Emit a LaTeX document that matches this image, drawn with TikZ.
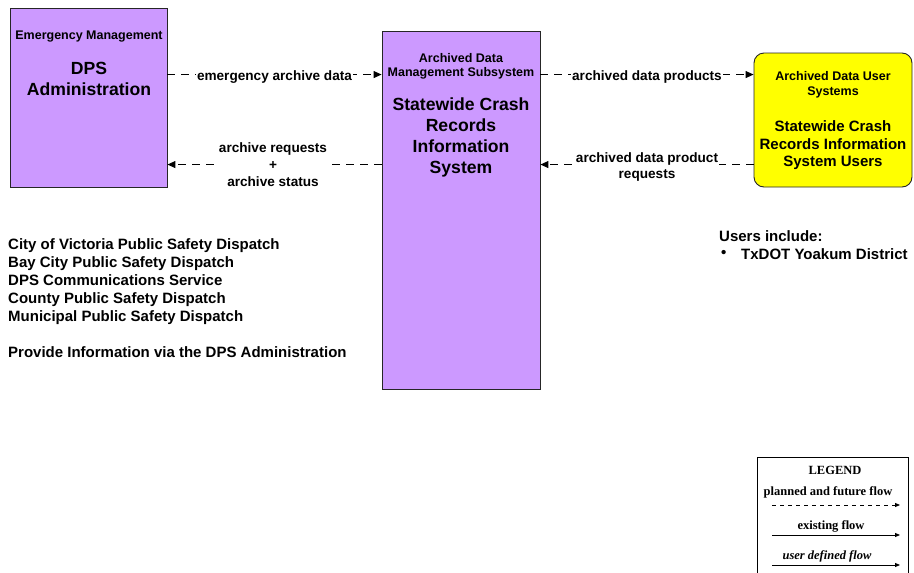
\documentclass[tikz,border=0pt]{standalone}
\usepackage{fontspec}
\setmainfont{Liberation Sans}
\newfontfamily\legendfont{Liberation Serif}
\usetikzlibrary{arrows.meta}

\definecolor{archpurple}{HTML}{CC99FF}
\definecolor{useryellow}{HTML}{FFFF00}

\begin{document}
\begin{tikzpicture}[x=1pt, y=-1pt,
  sysbox/.style={draw=black!85, line width=0.9pt, fill=archpurple, inner sep=0pt},
  userbox/.style={draw=black!85, line width=0.9pt, fill=useryellow, rounded corners=10pt, inner sep=0pt},
  flow/.style={line width=1pt, dash pattern=on 8pt off 6pt, -{Triangle[length=8pt,width=7pt]}},
  flowlabel/.style={fill=white, inner sep=1pt, align=center, font=\fontsize{13.6}{17}\selectfont\bfseries},
  headtext/.style={align=center, inner sep=0pt, font=\fontsize{12.5}{14.5}\selectfont\bfseries},
  nametext/.style={align=center, inner sep=0pt, font=\fontsize{17.6}{21}\selectfont\bfseries},
  listtext/.style={align=left, anchor=west, inner sep=0pt, font=\fontsize{15}{18}\selectfont\bfseries},
  legendtext/.style={inner sep=0pt, font=\legendfont\fontsize{12.5}{14}\selectfont\bfseries},
  legendflow/.style={line width=0.8pt, -{Triangle[length=5pt,width=4pt]}}
]
\useasboundingbox (0,0) rectangle (914,573);

% -----------------------------
% Boxes
% -----------------------------
\node[sysbox, minimum width=157pt, minimum height=179pt] (dps) at (88.5,97.5) {};
\node[sysbox, minimum width=158pt, minimum height=358pt] (crash) at (461,210) {};
\node[userbox, minimum width=158pt, minimum height=134pt] (users) at (833,120) {};

% box texts
\node[headtext] (dpshead) at (89,36.5) {Emergency Management};
\node[nametext] (dpsname) at (89,79) {DPS\\Administration};

\node[headtext, font=\fontsize{12.5}{14}\selectfont\bfseries] (crashhead) at (461,66) {Archived Data\\Management Subsystem};
\node[nametext] (crashname) at (461,137.5) {Statewide Crash\\Records\\Information\\System};

\node[headtext, font=\fontsize{12.5}{15}\selectfont\bfseries] (usershead) at (833,84.5) {Archived Data User\\Systems};
\node[headtext, font=\fontsize{15}{17.5}\selectfont\bfseries] (usersname) at (833,145.5) {Statewide Crash\\Records Information\\System Users};

% -----------------------------
% Flows
% -----------------------------
\draw[flow] ([yshift=-67pt]dps.north east) -- node[flowlabel, yshift=-2pt] (f1) {emergency archive data} ([yshift=-44pt]crash.north west);
\draw[flow] ([yshift=-134pt]crash.north west) -- node[flowlabel, xshift=-1.5pt] (f2) {archive requests\\+\\archive status} ([yshift=-157pt]dps.north east);
\draw[flow] ([yshift=-44pt]crash.north east) -- node[flowlabel, yshift=-2pt] (f3) {archived data products} ([yshift=-22pt]users.north west);
\draw[flow] ([yshift=-112pt]users.north west) -- node[flowlabel, yshift=-2pt, font=\fontsize{13.6}{16}\selectfont\bfseries] (f4) {archived data product\\requests} ([yshift=-134pt]crash.north east);

% -----------------------------
% Notes
% -----------------------------
\node[listtext] (dispatch) at (8,298) {City of Victoria Public Safety Dispatch\\
Bay City Public Safety Dispatch\\
DPS Communications Service\\
County Public Safety Dispatch\\
Municipal Public Safety Dispatch\\[18pt]
Provide Information via the DPS Administration};

\node[listtext] (usersinc) at (719,236) {Users include:};
\node[listtext] (bullet) at (721,254) {\textbullet};
\node[listtext] (yoakum) at (741,254) {TxDOT Yoakum District};

% -----------------------------
% Legend
% -----------------------------
\draw[line width=0.9pt] (757,580) -- (757,457) -- (908,457) -- (908,580);
\node[legendtext] (legendtitle) at (835,470) {LEGEND};
\node[legendtext] (planned) at (828,492) {planned and future flow};
\node[legendtext] (existing) at (831,526) {existing flow};
\node[legendtext, font=\legendfont\fontsize{12.5}{14}\selectfont\bfseries\itshape] (userdef) at (827,556) {user defined flow};

\coordinate (p1) at (772,505);
\coordinate (p2) at (900,505);
\coordinate (e1) at (772,535);
\coordinate (e2) at (900,535);
\coordinate (u1) at (772,565);
\coordinate (u2) at (900,565);
\draw[legendflow, dash pattern=on 4pt off 4pt] (p1) -- (p2);
\draw[legendflow] (e1) -- (e2);
\draw[legendflow] (u1) -- (u2);

\end{tikzpicture}
\end{document}
